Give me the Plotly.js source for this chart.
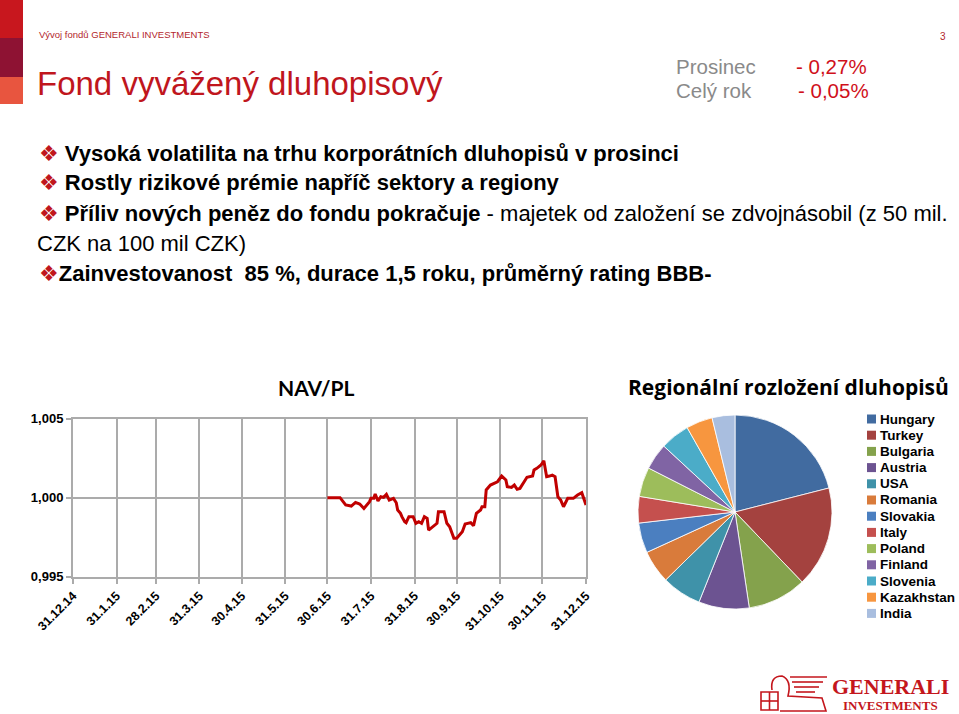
<!DOCTYPE html>
<html>
<head>
<meta charset="utf-8">
<script src="https://cdn.plot.ly/plotly-3.0.1.min.js"></script>
<style>html,body{margin:0;padding:0;background:#fff;}#chart{width:959px;height:714px;}</style>
</head>
<body>
<div id="chart"></div>
<script>
// ---------- DATA ----------
const navDates = ['2015-06-30','2015-07-09','2015-07-13','2015-07-17','2015-07-20','2015-07-23','2015-07-26','2015-07-30','2015-07-31','2015-08-02','2015-08-03','2015-08-05','2015-08-07','2015-08-09','2015-08-11','2015-08-13','2015-08-16','2015-08-18','2015-08-19','2015-08-21','2015-08-22','2015-08-24','2015-08-25','2015-08-27','2015-08-30','2015-09-01','2015-09-03','2015-09-05','2015-09-07','2015-09-09','2015-09-10','2015-09-13','2015-09-16','2015-09-17','2015-09-21','2015-09-23','2015-09-25','2015-09-28','2015-09-30','2015-10-04','2015-10-06','2015-10-10','2015-10-12','2015-10-14','2015-10-17','2015-10-18','2015-10-20','2015-10-21','2015-10-24','2015-10-29','2015-11-01','2015-11-04','2015-11-05','2015-11-08','2015-11-10','2015-11-12','2015-11-14','2015-11-17','2015-11-19','2015-11-23','2015-11-24','2015-11-26','2015-11-29','2015-12-01','2015-12-03','2015-12-05','2015-12-07','2015-12-09','2015-12-11','2015-12-13','2015-12-15','2015-12-18','2015-12-22','2015-12-25','2015-12-28','2015-12-31'];
const navValues = [1.0000,1.0000,0.99954,0.99947,0.99970,0.99960,0.99932,0.99975,0.99996,0.99996,1.00023,0.99979,1.00006,1.00002,1.00021,0.99985,0.99996,0.99968,0.99922,0.99901,0.99880,0.99848,0.99842,0.99880,0.99880,0.99838,0.99848,0.99838,0.99880,0.99869,0.99795,0.99816,0.99838,0.99911,0.99911,0.99838,0.99816,0.99743,0.99743,0.99785,0.99833,0.99842,0.99823,0.99901,0.99922,0.99943,0.99943,1.00049,1.00080,1.00101,1.00137,1.00112,1.00070,1.00065,1.00080,1.00053,1.00059,1.00101,1.00129,1.00137,1.00175,1.00186,1.00207,1.00234,1.00133,1.00137,1.00143,1.00133,1.00006,0.99985,0.99943,0.99996,0.99996,1.00017,1.00032,0.99954];
const xTickDates = ['2014-12-31','2015-01-31','2015-02-28','2015-03-31','2015-04-30','2015-05-31','2015-06-30','2015-07-31','2015-08-31','2015-09-30','2015-10-31','2015-11-30','2015-12-31'];
const xTickLabels = ['31.12.14','31.1.15','28.2.15','31.3.15','30.4.15','31.5.15','30.6.15','31.7.15','31.8.15','30.9.15','31.10.15','30.11.15','31.12.15'];
const yTickVals = [0.995, 1.000, 1.005];

const regions = ['Hungary','Turkey','Bulgaria','Austria','USA','Romania','Slovakia','Italy','Poland','Finland','Slovenia','Kazakhstan','India'];
const regionShares = [21.0,16.8,9.8,8.4,6.6,5.5,5.0,4.4,4.9,4.4,4.9,4.4,3.8];
const regionColors = ['#416ba0','#a4423f','#84a24c','#6c5391','#3f92a9','#d97b3b','#4b7fc0','#c5504e','#9dbd5b','#8064a4','#4bacc8','#f7963f','#a9bedf'];

// ---------- helpers ----------
const W = 959, H = 714;
const px = x => x / W;
const py = y => 1 - y / H;
const SANS = 'Liberation Sans, Arial, sans-serif';

const annotations = [];
const shapes = [];
function txt(x, y, text, size, color, opts) {
  annotations.push(Object.assign({
    xref: 'paper', yref: 'paper', x: px(x), y: py(y), text: text, showarrow: false,
    xanchor: 'left', yanchor: 'middle', font: {family: SANS, size: size, color: color}
  }, opts || {}));
}

// header stripes
shapes.push({type:'rect', xref:'paper', yref:'paper', x0:0, x1:px(23), y0:py(0), y1:py(38), fillcolor:'#c8171e', line:{width:0}});
shapes.push({type:'rect', xref:'paper', yref:'paper', x0:0, x1:px(23), y0:py(38), y1:py(77), fillcolor:'#8e1233', line:{width:0}});
shapes.push({type:'rect', xref:'paper', yref:'paper', x0:0, x1:px(23), y0:py(77), y1:py(104), fillcolor:'#e8553f', line:{width:0}});

txt(37, 34, 'Vývoj fondů GENERALI INVESTMENTS', 9.5, '#b3262b');
txt(943, 36, '3', 10, '#b3262b', {xanchor:'center'});
txt(35, 83, 'Fond vyvážený dluhopisový', 33, '#c0161d');
txt(674, 66, 'Prosinec', 20.5, '#8a8a8a');
txt(674, 90, 'Celý rok', 20.5, '#8a8a8a');
txt(794, 66, '- 0,27%', 20.5, '#d0101b');
txt(796, 90, '- 0,05%', 20.5, '#d0101b');

const B = '<span style="color:#c0161d;font-family:DejaVu Sans">❖</span>';
const BS = 22;
txt(37, 153, B + ' <b>Vysoká volatilita na trhu korporátních dluhopisů v prosinci</b>', BS, '#000');
txt(37, 183, B + ' <b>Rostly rizikové prémie napříč sektory a regiony</b>', BS, '#000');
txt(37, 213, B + ' <b>Příliv nových peněz do fondu pokračuje</b> - majetek od založení se zdvojnásobil (z 50 mil.', BS, '#000');
txt(35, 243, 'CZK na 100 mil CZK)', BS, '#000');
txt(37, 273, B + '<b>Zainvestovanost  85 %, durace 1,5 roku, průměrný rating BBB-</b>', BS, '#000');

// chart titles
txt(316, 388, '<b>NAV/PL</b>', 21, '#000', {xanchor:'center', font:{family:'Lato, Open Sans, sans-serif', size:21, color:'#000'}});
txt(788, 387, '<b>Regionální rozložení dluhopisů</b>', 21, '#000', {xanchor:'center', font:{family:'Open Sans, Lato, sans-serif', size:21, color:'#000'}});

// manual legend for pie
regions.forEach((r, i) => {
  const yc = 419 + i * 16.2;
  shapes.push({type:'rect', xref:'paper', yref:'paper', x0:px(867), x1:px(876), y0:py(yc+4.5), y1:py(yc-4.5), fillcolor:regionColors[i], line:{width:0}});
  txt(878, yc, '<b>' + r + '</b>', 13.5, '#000');
});

// logo text
txt(890, 686, '<b>GENERALI</b>', 22, '#c4161c', {xanchor:'center', font:{family:'Liberation Serif, DejaVu Serif, serif', size:22, color:'#c4161c'}});
txt(890, 705, '<b>INVESTMENTS</b>', 13, '#c4161c', {xanchor:'center', font:{family:'Liberation Serif, DejaVu Serif, serif', size:13, color:'#c4161c'}});
// simple lion emblem approximation
const L = {width:1.6, color:'#c4161c'};
shapes.push({type:'rect', xref:'paper', yref:'paper', x0:px(761), x1:px(778), y0:py(710), y1:py(692), line:L});
shapes.push({type:'line', xref:'paper', yref:'paper', x0:px(761), x1:px(778), y0:py(701), y1:py(701), line:L});
shapes.push({type:'line', xref:'paper', yref:'paper', x0:px(769.5), x1:px(769.5), y0:py(692), y1:py(710), line:L});
[677,682,687,692].forEach((yy, k) => {
  shapes.push({type:'line', xref:'paper', yref:'paper', x0:px(790+k*2), x1:px(827-k*4), y0:py(yy), y1:py(yy), line:L});
});
shapes.push({type:'path', xref:'paper', yref:'paper', line:L,
  path:'M '+px(772)+','+py(690)+' Q '+px(770)+','+py(676)+' '+px(782)+','+py(676)+' Q '+px(792)+','+py(680)+' '+px(788)+','+py(696)+' L '+px(822)+','+py(698)+' L '+px(826)+','+py(711)+' L '+px(780)+','+py(711)});

const grid = '#ababab';
const traces = [
  {type:'scatter', mode:'lines', x:navDates, y:navValues, line:{color:'#c00000', width:3}, xaxis:'x', yaxis:'y', hoverinfo:'x+y'},
  {type:'pie', labels:regions, values:regionShares, sort:false, direction:'clockwise', rotation:0,
   marker:{colors:regionColors, line:{color:'#ffffff', width:0.8}}, textinfo:'none', showlegend:false,
   domain:{x:[px(638), px(832)], y:[py(609), py(415)]}}
];

const layout = {
  width: W, height: H,
  margin: {l:0, r:0, t:0, b:0},
  paper_bgcolor:'#fff', plot_bgcolor:'#fff',
  separators: ', ',
  showlegend: false,
  font: {family: SANS},
  xaxis: {
    domain:[px(73), px(586)], type:'date', range:['2014-12-31','2015-12-31'],
    tickmode:'array', tickvals:xTickDates, ticktext:xTickLabels, tickangle:-45,
    showgrid:true, gridcolor:grid, gridwidth:2, showline:true, linecolor:grid, linewidth:2, mirror:true,
    ticks:'outside', ticklen:5, tickcolor:grid, tickwidth:2, zeroline:false,
    tickfont:{family:SANS, size:12.5, color:'#000', weight:'bold'}, fixedrange:true
  },
  yaxis: {
    domain:[py(576.7), py(418.7)], range:[0.995, 1.005],
    tickmode:'array', tickvals:yTickVals, tickformat:'.3f',
    showgrid:true, gridcolor:grid, gridwidth:2, showline:true, linecolor:grid, linewidth:2, mirror:true,
    ticks:'outside', ticklen:5, tickcolor:grid, tickwidth:2, zeroline:false,
    tickfont:{family:SANS, size:13, color:'#000', weight:'bold'}, fixedrange:true
  },
  annotations: annotations,
  shapes: shapes
};

Plotly.newPlot('chart', traces, layout, {displayModeBar:false, staticPlot:true});
</script>
</body>
</html>
